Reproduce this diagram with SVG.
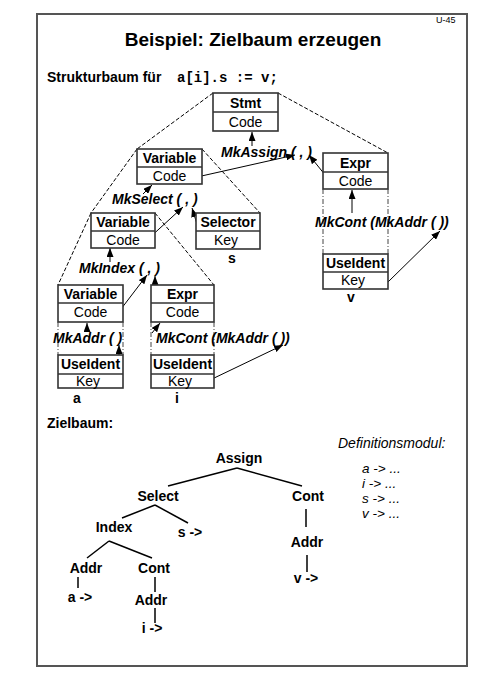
<svg xmlns="http://www.w3.org/2000/svg" width="480" height="678" viewBox="0 0 480 678">
<style>
text{font-family:"Liberation Sans",Arial,sans-serif;font-size:14px;fill:#000}
.b{font-weight:bold}
.c{text-anchor:middle}
.f{font-weight:bold;font-style:italic}
.i{font-style:italic}
.d{font-style:italic;font-size:13.5px}
.m{font-family:"Liberation Mono","Courier New",monospace;font-weight:bold}
.box{fill:#fff;stroke:#333;stroke-width:1.6}
.sep{stroke:#333;stroke-width:1.6}
.dd{stroke:#444;stroke-width:1;stroke-dasharray:5,2,1,2;fill:none}
.dl{stroke:#000;stroke-width:1;stroke-dasharray:4,2;fill:none}
.ar{stroke:#000;stroke-width:1;fill:none;marker-end:url(#ah)}
.t{stroke:#000;stroke-width:1.5}
</style>
<defs>
<marker id="ah" markerUnits="userSpaceOnUse" markerWidth="9" markerHeight="7" refX="9" refY="3.5" orient="auto">
<path d="M0,0 L9,3.5 L0,7 z" fill="#000"/>
</marker>
</defs>
<rect x="0" y="0" width="480" height="678" fill="#fff"/>
<rect x="37" y="14" width="430" height="652" fill="none" stroke="#555" stroke-width="2"/>
<text x="436" y="23" style="font-size:9px">U-45</text>
<text x="253" y="46" class="b c" style="font-size:19px">Beispiel: Zielbaum erzeugen</text>
<text x="47" y="82" class="b">Strukturbaum für</text>
<text x="177" y="82" class="m">a[i].s := v;</text>

<g id="connectors">
<path class="dl" d="M213,93 L137,149"/>
<path class="dl" d="M278,93 L388,153"/>
<path class="dl" d="M137,149 L91,213"/>
<path class="dl" d="M202,149 L260,213"/>
<path class="dl" d="M91,213 L58,285"/>
<path class="dl" d="M155,213 L214,285"/>
<path class="ar" d="M252,146 L252,132"/>
<path class="ar" d="M197,177 L295,155"/>
<path class="ar" d="M330,181 L309,155"/>
<path class="ar" d="M352,213 L352,190"/>
<path class="ar" d="M388,282 L440,231"/>
<path class="ar" d="M143,194 L152,185"/>
<path class="ar" d="M147,240 L183,207"/>
<path class="ar" d="M202,240 L192,208"/>
<path class="ar" d="M110,262 L110,248"/>
<path class="ar" d="M118,313 L147,275"/>
<path class="ar" d="M155,313 L155,276"/>
<path class="ar" d="M87,331 L87,323"/>
<path class="ar" d="M119,381 L119,345"/>
<path class="ar" d="M152,333 L160,323"/>
<path class="ar" d="M210,380 L283,345"/>
</g>

<g id="stmt">
<rect class="box" x="213" y="93" width="65" height="38"/>
<line class="sep" x1="213" y1="112" x2="278" y2="112"/>
<text x="245.5" y="108" class="b c">Stmt</text>
<text x="245.5" y="127" class="c">Code</text>
</g>
<g id="variable1">
<rect class="box" x="137" y="149" width="65" height="35"/>
<line class="sep" x1="137" y1="167" x2="202" y2="167"/>
<text x="169.5" y="163" class="b c">Variable</text>
<text x="169.5" y="181" class="c">Code</text>
</g>
<g id="expr-v">
<rect class="box" x="323" y="153" width="65" height="36"/>
<line class="sep" x1="323" y1="172" x2="388" y2="172"/>
<text x="355.5" y="168" class="b c">Expr</text>
<text x="355.5" y="186" class="c">Code</text>
<line class="dd" x1="323" y1="189" x2="323" y2="254"/>
<line class="dd" x1="388" y1="189" x2="388" y2="254"/>
<rect class="box" x="323" y="254" width="65" height="35"/>
<line class="sep" x1="323" y1="272" x2="388" y2="272"/>
<text x="355.5" y="268" class="b c">UseIdent</text>
<text x="353" y="285" class="c">Key</text>
<text x="351" y="302" class="b c">v</text>
</g>
<g id="variable2">
<rect class="box" x="91" y="213" width="64" height="35"/>
<line class="sep" x1="91" y1="231" x2="155" y2="231"/>
<text x="123" y="227" class="b c">Variable</text>
<text x="123" y="245" class="c">Code</text>
</g>
<g id="selector">
<rect class="box" x="196" y="213" width="64" height="36"/>
<line class="sep" x1="196" y1="231" x2="260" y2="231"/>
<text x="228" y="227" class="b c">Selector</text>
<text x="226" y="245" class="c">Key</text>
<text x="232" y="263" class="b c">s</text>
</g>
<g id="variable3">
<rect class="box" x="58" y="285" width="65" height="37"/>
<line class="sep" x1="58" y1="303" x2="123" y2="303"/>
<text x="90.5" y="299" class="b c">Variable</text>
<text x="90.5" y="317" class="c">Code</text>
<line class="dd" x1="58" y1="322" x2="58" y2="355"/>
<line class="dd" x1="123" y1="322" x2="123" y2="355"/>
<rect class="box" x="58" y="355" width="65" height="33"/>
<line class="sep" x1="58" y1="374" x2="123" y2="374"/>
<text x="90.5" y="369" class="b c">UseIdent</text>
<text x="88" y="386" class="c">Key</text>
<text x="77" y="403" class="b c">a</text>
</g>
<g id="expr-i">
<rect class="box" x="151" y="285" width="63" height="37"/>
<line class="sep" x1="151" y1="303" x2="214" y2="303"/>
<text x="182.5" y="299" class="b c">Expr</text>
<text x="182.5" y="317" class="c">Code</text>
<line class="dd" x1="151" y1="322" x2="151" y2="355"/>
<line class="dd" x1="214" y1="322" x2="214" y2="355"/>
<rect class="box" x="151" y="355" width="63" height="33"/>
<line class="sep" x1="151" y1="374" x2="214" y2="374"/>
<text x="182.5" y="369" class="b c">UseIdent</text>
<text x="180" y="386" class="c">Key</text>
<text x="177" y="403" class="b c">i</text>
</g>

<g id="labels">
<text x="221" y="157" class="f">MkAssign ( , )</text>
<text x="112" y="204" class="f">MkSelect ( , )</text>
<text x="79" y="273" class="f">MkIndex ( , )</text>
<text x="53" y="343" class="f">MkAddr ( )</text>
<text x="156" y="343" class="f">MkCont (MkAddr ( ))</text>
<text x="315" y="227" class="f">MkCont (MkAddr ( ))</text>
</g>

<text x="47" y="428" class="b">Zielbaum:</text>
<g id="tree-edges">
<line class="t" x1="237" y1="468" x2="168" y2="486"/>
<line class="t" x1="237" y1="468" x2="302" y2="486"/>
<line class="t" x1="155" y1="505" x2="122" y2="518"/>
<line class="t" x1="155" y1="505" x2="188" y2="523"/>
<line class="t" x1="306" y1="509" x2="306" y2="527"/>
<line class="t" x1="307" y1="555" x2="307" y2="572"/>
<line class="t" x1="109" y1="541" x2="87" y2="558"/>
<line class="t" x1="109" y1="541" x2="152" y2="558"/>
<line class="t" x1="78" y1="577" x2="78" y2="588"/>
<line class="t" x1="155" y1="577" x2="155" y2="592"/>
<line class="t" x1="155" y1="608" x2="155" y2="623"/>
</g>
<g id="t-assign"><text x="239" y="463" class="b c">Assign</text></g>
<g id="t-select"><text x="158" y="501" class="b c">Select</text></g>
<g id="t-cont1"><text x="308" y="501" class="b c">Cont</text></g>
<g id="t-index"><text x="114" y="532" class="b c">Index</text></g>
<g id="t-s"><text x="190" y="537" class="b c">s -&gt;</text></g>
<g id="t-addr1"><text x="307" y="547" class="b c">Addr</text></g>
<g id="t-v"><text x="306" y="583" class="b c">v -&gt;</text></g>
<g id="t-addr2"><text x="86" y="573" class="b c">Addr</text></g>
<g id="t-cont2"><text x="154" y="573" class="b c">Cont</text></g>
<g id="t-a"><text x="80" y="602" class="b c">a -&gt;</text></g>
<g id="t-addr3"><text x="151" y="605" class="b c">Addr</text></g>
<g id="t-i"><text x="152" y="633" class="b c">i -&gt;</text></g>

<g id="defmodul">
<text x="338" y="448" class="i">Definitionsmodul:</text>
<text x="362" y="473" class="d">a -&gt; ...</text>
<text x="362" y="488" class="d">i -&gt; ...</text>
<text x="362" y="503" class="d">s -&gt; ...</text>
<text x="362" y="518" class="d">v -&gt; ...</text>
</g>
</svg>
